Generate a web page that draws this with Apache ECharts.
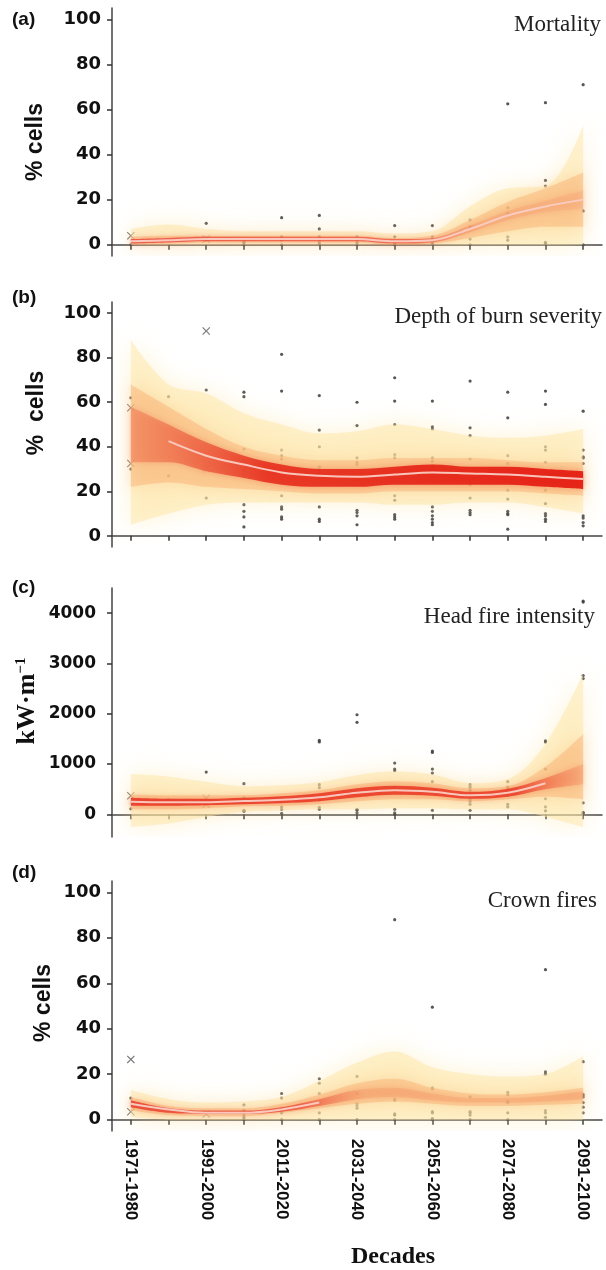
<!DOCTYPE html>
<html>
<head>
<meta charset="UTF-8">
<title>Fire regime projections</title>
<script src="https://cdn.jsdelivr.net/npm/echarts@6/dist/echarts.min.js"></script>
<style type="text/css">
body{
	padding:0;
	margin:0;
	background:#fff;
}
#my_container{
	width:606px;
	height:1270px;
}
</style>
</head>
<body>
<div id="my_container"></div>
<script type="text/javascript">
var decades = ['1971-1980','1981-1990','1991-2000','2001-2010','2011-2020','2021-2030','2031-2040',
	'2041-2050','2051-2060','2061-2070','2071-2080','2081-2090','2091-2100'];

// (a) Mortality, % cells
var mortCenter  = [1.5, 2, 2.5, 2.5, 2.5, 2.5, 2.5, 1.5, 2, 7, 13, 17, 20];
var mortOuterLo = [0, 0, 0, 0, 0, 0, 0, 0, 0, 0, 0, 0, 0];
var mortOuterHi = [7, 9, 7, 6, 6, 6, 6, 5, 6, 17, 25, 26, 53];
var mortMidLo   = [0, 0.5, 1, 1, 1, 1, 1, 0, 0.5, 3, 6, 8, 8];
var mortMidHi   = [3.5, 4, 4, 4, 4, 4, 4, 3, 4, 11, 19, 25, 32];
var mortInLo    = [0.5, 1, 1.5, 1.5, 1.5, 1.5, 1.5, 0.5, 1, 5.5, 11, 14.5, 16];
var mortInHi    = [2.5, 3, 3.5, 3.5, 3.5, 3.5, 3.5, 2.5, 3, 8.5, 15, 19.5, 24];
var mortDots = [[0], [2], [9.5, 3, 2], [0, 1, 1.5], [12, 3.5, 2, 0], [13, 7, 3.5, 2.5, 1.5, 0.5],
	[3.5, 2, 1, 0], [8.5, 3.5, 1, 0.5, 0], [8.5, 3.5, 2.5, 1, 0.5], [11, 8, 2.5, 0],
	[62.5, 16.5, 14, 3.5, 2], [63, 28.5, 26, 1, 0.5], [71, 15, 0]];
var mortCross = [[0, 4], [2, 2.5]];

// (b) Depth of burn severity, % cells
var depthCenter  = [null, 42.5, 36, 32, 28.5, 27, 26.5, 27.5, 28.5, 28, 27.5, 26.5, 25.5];
var depthOuterLo = [5, 10, 14, 15, 15, 15, 15, 14, 14, 15, 15, 13, 10];
var depthOuterHi = [88, 68, 64, 55, 50, 46, 47, 50, 48, 45, 44, 45, 48];
var depthMidLo   = [22, 24, 22, 21, 20, 19, 19, 20, 20, 20, 20, 19, 18];
var depthMidHi   = [68, 58, 48, 40, 36, 34, 34, 35, 35, 35, 34, 33, 33];
var depthInLo    = [33, 33, 29, 26, 23, 22, 22, 23, 23, 23, 23, 22, 21];
var depthInHi    = [58, 50, 42, 36, 32, 30, 30, 31, 32, 31, 31, 30, 29];
var depthDots = [[62, 30], [62.5, 27], [65.5, 17],
	[64.5, 62.5, 39, 34, 32.5, 29.5, 27.5, 14, 11, 8.5, 4],
	[81.5, 65, 38.5, 36, 34.5, 29.5, 18, 13, 12, 8.5, 7.5],
	[63, 47.5, 40, 31, 30, 29, 28, 13, 7.5, 6.5],
	[60, 49.5, 35, 33, 32, 26, 25, 11.5, 10.5, 9, 5],
	[71, 60.5, 50, 36.5, 35, 26, 18, 16, 9.5, 8.5, 7.5],
	[60.5, 49, 48, 35, 33.5, 31.5, 29.5, 13, 11, 9, 7.5, 6, 5],
	[69.5, 48.5, 45, 34.5, 29, 28, 24, 23, 17, 11.5, 10.5, 9.5],
	[64.5, 53, 36, 32.5, 29.5, 20.5, 16.5, 11, 10, 9.5, 3],
	[65, 59, 40, 38.5, 33, 28.5, 20.5, 14.5, 10, 9, 7.5, 6.5],
	[56, 38.5, 35.5, 35, 32.5, 9, 8, 6, 4.5]];
var depthCross = [[0, 57.5], [0, 32.5], [2, 92], [2, 30]];

// (c) Head fire intensity, kW/m
var hfiCenter  = [250, 240, 240, 265, 290, 340, 430, 480, 450, 380, 430, 620, null];
var hfiOuterLo = [-250, -180, -50, 50, 80, 100, 100, 120, 120, 100, 100, -50, -250];
var hfiOuterHi = [800, 750, 650, 560, 580, 640, 780, 850, 790, 620, 700, 1400, 2800];
var hfiMidLo   = [100, 100, 120, 160, 170, 200, 260, 300, 300, 260, 300, 350, 300];
var hfiMidHi   = [400, 380, 380, 380, 420, 480, 600, 660, 620, 520, 560, 950, 1600];
var hfiInLo    = [170, 170, 180, 200, 220, 260, 340, 390, 370, 310, 350, 500, 600];
var hfiInHi    = [330, 310, 310, 330, 360, 420, 520, 570, 530, 450, 510, 720, 1000];
var hfiDots = [[110], [300], [840], [610, 330, 80, 60], [280, 300, 150, 100, 20],
	[1470, 1440, 590, 530, 340, 290, 140, 100], [1980, 1830, 100, 80, 30],
	[1020, 900, 870, 520, 100, 30, 0], [1260, 1230, 900, 820, 650, 80],
	[590, 540, 480, 300, 260, 200, 80], [650, 540, 510, 460, 380, 200, 150],
	[1460, 1440, 900, 310, 150, 70], [4240, 4220, 2760, 2700, 230, 40, 20]];
var hfiCross = [[0, 370], [2, 320], [2, 200]];

// (d) Crown fires, % cells
var crownCenter  = [7, 4.5, 3, 3, 4.5, 7.5, null, null, null, null, null, null, null];
var crownOuterLo = [1, 0, 0, 0, 0, 0, 0, 0, 0, 0, 0, 0, 0];
var crownOuterHi = [13, 9, 7.5, 8, 10, 17, 25, 30, 23, 20, 19, 20, 28];
var crownMidLo   = [4, 2, 1.5, 1.5, 3, 5, 7, 8, 7, 6, 6, 6.5, 7];
var crownMidHi   = [10, 6, 5, 5, 7, 11, 16, 18, 14, 11.5, 11, 12, 14];
var crownInLo    = [5.5, 3, 2.5, 2.5, 3.5, 6, 9, 10, 8.5, 7.5, 7.5, 8, 9];
var crownInHi    = [8.5, 5, 4, 4, 5.5, 9, 13, 14, 11.5, 9.5, 9.5, 10.5, 12.5];
var crownDots = [[9.5], [4], [3], [6.5, 4, 3, 2, 1, 0], [11.5, 9.5, 5, 4, 3, 0],
	[18, 16, 11.5, 7.5, 7, 3, 0], [19, 11.5, 7, 6, 5, 0], [88, 9, 8.5, 2.5, 2, 0],
	[49.5, 14, 13.5, 3.5, 3, 0.5, 0], [10, 3.5, 3, 2, 0], [12, 11, 8, 7.5, 3, 0],
	[66, 21, 20, 4, 3, 1], [25.5, 11, 10, 7.5, 5.5, 3]];
var crownCross = [[0, 26.5], [0, 3.5], [2, 2.5]];

var pctTicks = [0, 20, 40, 60, 80, 100];
var hfiTicks = [0, 1000, 2000, 3000, 4000];

var SANS = '"Liberation Sans", Arial, sans-serif';
var WIDE = '"DejaVu Sans", sans-serif';
var SERIF = '"Liberation Serif", "Times New Roman", serif';

function grad(stops) {
	return {type: 'linear', x: 0, y: 0, x2: 1, y2: 0, colorStops: stops};
}

var panels = [
	{center: mortCenter, oLo: mortOuterLo, oHi: mortOuterHi, mLo: mortMidLo, mHi: mortMidHi,
	 iLo: mortInLo, iHi: mortInHi, dots: mortDots, cross: mortCross,
	 top: 8, height: 248, min: -5, max: 105, ticks: pctTicks, labelSize: 18, labelMargin: 11,
	 inner: grad([{offset: 0, color: 'rgba(236,70,55,0.8)'}, {offset: 0.62, color: 'rgba(238,85,65,0.75)'},
		{offset: 0.78, color: 'rgba(244,155,110,0.4)'}, {offset: 1, color: 'rgba(244,165,120,0.3)'}])},
	{center: depthCenter, oLo: depthOuterLo, oHi: depthOuterHi, mLo: depthMidLo, mHi: depthMidHi,
	 iLo: depthInLo, iHi: depthInHi, dots: depthDots, cross: depthCross,
	 top: 302, height: 245, min: -5, max: 105, ticks: pctTicks, labelSize: 18, labelMargin: 11,
	 inner: grad([{offset: 0, color: 'rgba(240,125,85,0.5)'}, {offset: 0.3, color: 'rgba(230,40,25,0.85)'},
		{offset: 1, color: 'rgba(228,22,14,0.9)'}])},
	{center: hfiCenter, oLo: hfiOuterLo, oHi: hfiOuterHi, mLo: hfiMidLo, mHi: hfiMidHi,
	 iLo: hfiInLo, iHi: hfiInHi, dots: hfiDots, cross: hfiCross,
	 top: 588, height: 249, min: -450, max: 4500, ticks: hfiTicks, labelSize: 17, labelMargin: 16,
	 inner: grad([{offset: 0, color: 'rgba(234,50,32,0.85)'}, {offset: 0.85, color: 'rgba(234,50,32,0.8)'},
		{offset: 1, color: 'rgba(244,145,100,0.35)'}])},
	{center: crownCenter, oLo: crownOuterLo, oHi: crownOuterHi, mLo: crownMidLo, mHi: crownMidHi,
	 iLo: crownInLo, iHi: crownInHi, dots: crownDots, cross: crownCross,
	 top: 881, height: 250, min: -5, max: 105, ticks: pctTicks, labelSize: 18, labelMargin: 11,
	 inner: grad([{offset: 0, color: 'rgba(232,55,38,0.8)'}, {offset: 0.38, color: 'rgba(236,75,55,0.75)'},
		{offset: 0.52, color: 'rgba(244,155,105,0.4)'}, {offset: 1, color: 'rgba(244,155,105,0.4)'}])}
];

var crossPath = 'path://M0,1L1,0L5,4L9,0L10,1L6,5L10,9L9,10L5,6L1,10L0,9L4,5Z';

var grids = [], xAxes = [], yAxes = [], series = [];

function band(p, lo, hi, color, name, blur, glow) {
	var width = hi.map(function (v, i) { return v - lo[i]; });
	var common = {type: 'line', xAxisIndex: p, yAxisIndex: p, stack: name, stackStrategy: 'all',
		symbol: 'none', smooth: 0.35, silent: true, lineStyle: {width: 0, opacity: 0}};
	series.push(Object.assign({data: lo}, common));
	series.push(Object.assign({data: width, areaStyle: {color: color, opacity: 1,
		shadowBlur: blur, shadowColor: glow}}, common));
}

panels.forEach(function (pn, p) {
	grids.push({left: 112, width: 490, top: pn.top, height: pn.height});
	xAxes.push({
		type: 'category', gridIndex: p, data: decades, boundaryGap: true,
		axisLine: {lineStyle: {color: '#444', width: 1.5}},
		axisTick: {show: true, interval: 0, alignWithLabel: true, length: 5, lineStyle: {color: '#333', width: 1.5}},
		axisLabel: {show: p === 3, interval: 1, rotate: -90, margin: 8, fontSize: 17, fontWeight: 'bold',
			color: '#111', fontFamily: SANS},
		splitLine: {show: false}
	});
	yAxes.push({
		type: 'value', gridIndex: p, min: pn.min, max: pn.max,
		axisLine: {show: true, lineStyle: {color: '#444', width: 1.5}},
		axisTick: {show: true, length: 5, customValues: pn.ticks, lineStyle: {color: '#333', width: 1.5}},
		axisLabel: {customValues: pn.ticks, fontSize: pn.labelSize, fontWeight: 'bold', color: '#111',
			fontFamily: WIDE, margin: pn.labelMargin, formatter: function (v) { return String(v); }},
		splitLine: {show: false}
	});

	band(p, pn.oLo, pn.oHi, 'rgba(253,230,165,0.5)', 'o' + p, 24, 'rgba(253,228,160,0.9)');
	band(p, pn.mLo, pn.mHi, 'rgba(247,172,108,0.42)', 'm' + p, 14, 'rgba(247,175,110,0.7)');
	band(p, pn.iLo, pn.iHi, pn.inner, 'i' + p, 6, 'rgba(236,90,60,0.5)');

	series.push({
		type: 'line', xAxisIndex: p, yAxisIndex: p, data: pn.center, smooth: 0.35, symbol: 'none',
		silent: true, lineStyle: {color: 'rgba(250,205,195,0.95)', width: 2}
	});

	var pts = [];
	pn.dots.forEach(function (vals, i) {
		vals.forEach(function (v) { pts.push([i, v]); });
	});
	series.push({
		type: 'scatter', xAxisIndex: p, yAxisIndex: p, data: pts, symbolSize: 3.2, silent: true,
		itemStyle: {color: '#3a3a3a', opacity: 0.85}
	});
	series.push({
		type: 'scatter', xAxisIndex: p, yAxisIndex: p, data: pn.cross, symbol: crossPath, symbolSize: 8,
		silent: true, itemStyle: {color: '#555'}
	});
});

function txt(x, y, text, font, opts) {
	return {type: 'text', x: x, y: y, silent: true,
		style: Object.assign({text: text, font: font, fill: '#111', textAlign: 'left', textVerticalAlign: 'middle'}, opts || {})};
}
function vtxt(x, y, text, font) {
	return {type: 'text', x: x, y: y, rotation: Math.PI / 2, silent: true,
		style: {text: text, font: font, fill: '#111', textAlign: 'center', textVerticalAlign: 'middle'}};
}

var graphics = [
	txt(12, 20, '(a)', 'bold 19px ' + SANS),
	txt(12, 298, '(b)', 'bold 19px ' + SANS),
	txt(12, 588, '(c)', 'bold 19px ' + SANS),
	txt(12, 873, '(d)', 'bold 19px ' + SANS),
	txt(601, 25, 'Mortality', '23px ' + SERIF, {textAlign: 'right', fill: '#222'}),
	txt(602, 317, 'Depth of burn severity', '23px ' + SERIF, {textAlign: 'right', fill: '#222'}),
	txt(595, 617, 'Head fire intensity', '23px ' + SERIF, {textAlign: 'right', fill: '#222'}),
	txt(597, 901, 'Crown fires', '23px ' + SERIF, {textAlign: 'right', fill: '#222'}),
	vtxt(36, 142, '% cells', 'bold 23px ' + SANS),
	vtxt(37, 413, '%  cells', 'bold 23px ' + SANS),
	{type: 'text', x: 27, y: 701, rotation: Math.PI / 2, silent: true,
	 style: {text: '{a|kW·m}{b|−1}', fill: '#111', textAlign: 'center', textVerticalAlign: 'middle',
		rich: {a: {fontSize: 26, fontWeight: 'bold', fontFamily: SERIF, fill: '#111'},
			b: {fontSize: 15, fontWeight: 'bold', fontFamily: SERIF, fill: '#111', verticalAlign: 'top', lineHeight: 26}}}},
	vtxt(44, 1003, '% cells', 'bold 23px ' + SANS),
	txt(393, 1257, 'Decades', 'bold 24px ' + SERIF, {textAlign: 'center'})
];

var myChart = echarts.init(document.getElementById('my_container'), null, {renderer: 'canvas'});
var option = {
	animation: false,
	backgroundColor: '#fff',
	grid: grids,
	xAxis: xAxes,
	yAxis: yAxes,
	series: series,
	graphic: graphics
};
myChart.setOption(option);
</script>
</body>
</html>
